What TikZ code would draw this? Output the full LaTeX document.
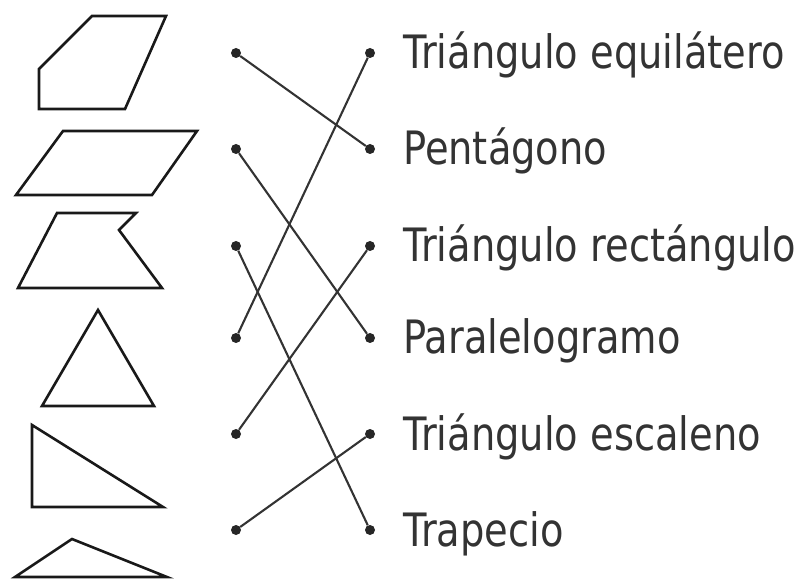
\documentclass[tikz,border=0pt]{standalone}
\usepackage{fontspec}
\setmainfont{DejaVu Sans}
\usepackage{tikz}
\usetikzlibrary{positioning}
\tikzset{
  dot/.style={circle, fill=black!85, inner sep=0pt, minimum size=10pt},
  link/.style={line width=2.1pt, black!80},
  shp/.style={line width=2.6pt, line join=miter, black!90},
  lbl/.style={font=\fontsize{46}{50}\selectfont, inner sep=0pt, anchor=base west, text=black!80}
}

\begin{document}
\begin{tikzpicture}[x=1pt, y=-1pt]
  \useasboundingbox (0,0) rectangle (804,580);
  % figures on the left
  \draw[shp] (39,69) -- (92,16) -- (166,16) -- (125,109) -- (39,109) -- cycle;
  \draw[shp] (63,131) -- (197,131) -- (152,195) -- (16,195) -- cycle;
  \draw[shp] (57,213) -- (136,213) -- (119,230) -- (162,288) -- (18,288) -- cycle;
  \draw[shp] (98,310) -- (154,406) -- (42,406) -- cycle;
  \draw[shp] (32,425) -- (32,507) -- (163,507) -- cycle;
  \draw[shp] (72,539) -- (167,577) -- (15,577) -- cycle;
  % dots and names
  \foreach \i/\y/\txt in {1/53/Triángulo equilátero, 2/149/Pentágono, 3/246/Triángulo rectángulo,
                          4/338/Paralelogramo, 5/434/Triángulo escaleno, 6/530/Trapecio} {
    \node[dot] (l\i) at (236,\y) {};
    \node[dot] (r\i) at (370,\y) {};
    \node[lbl] (t\i) at (403,\y+16) {\scalebox{0.835}[1]{\txt}};
  }
  % matching lines
  \foreach \a/\b in {1/2,2/4,3/6,4/1,5/3,6/5}
    \draw[link] (l\a) -- (r\b);
\end{tikzpicture}
\end{document}
